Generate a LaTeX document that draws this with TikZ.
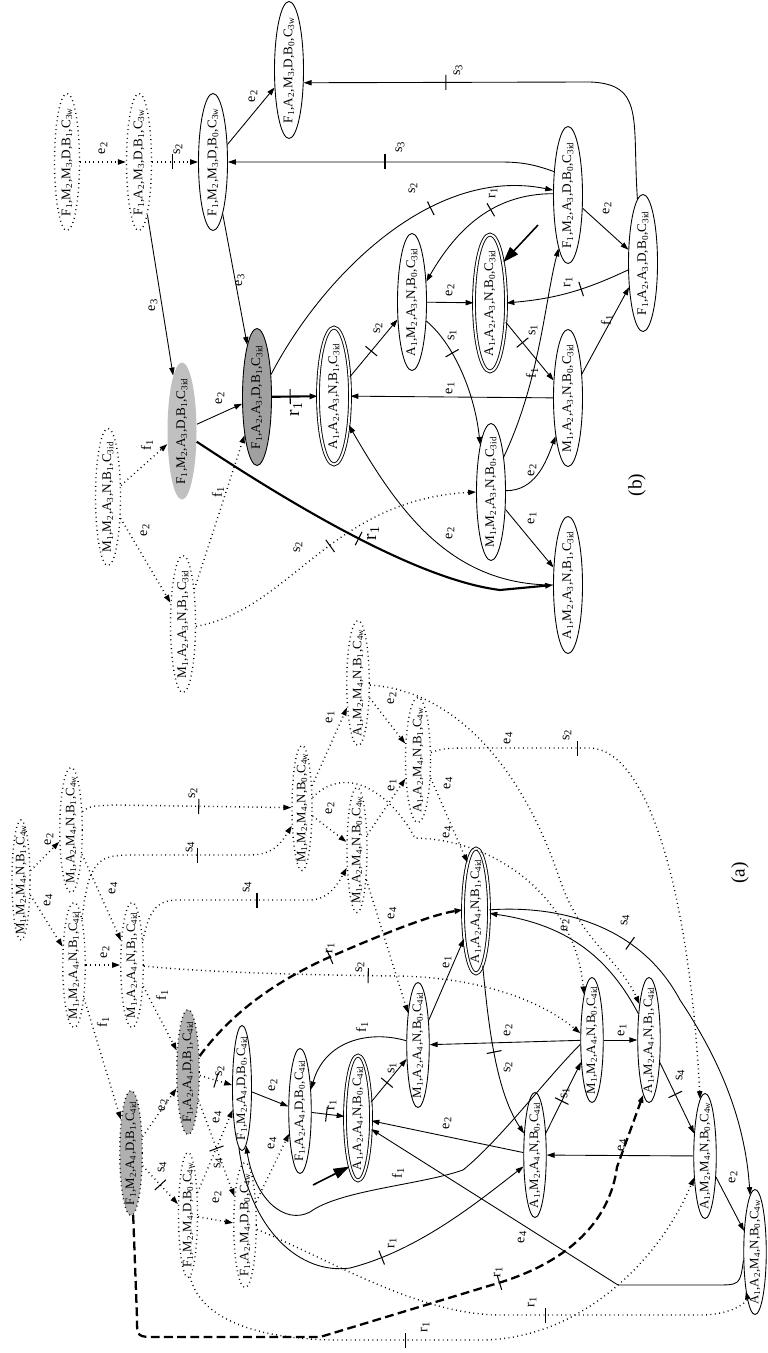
\documentclass[tikz,border=0pt]{standalone}
\usepackage{fontspec}
\setmainfont{Liberation Serif}
\usepackage{graphicx}
\usetikzlibrary{shapes.geometric,arrows.meta,decorations.markings}
\definecolor{stGray}{RGB}{176,176,176}
\definecolor{stLight}{RGB}{192,192,192}
\definecolor{stDark}{RGB}{160,160,160}
\newcommand{\sbs}[1]{\textsubscript{#1}}
\newcommand{\vtx}[1]{\rotatebox{90}{#1}}
\tikzset{
  % states of graph (b)
  sb/.style={ellipse, draw, line width=0.5pt, inner xsep=0pt, inner ysep=-6mm,
    minimum width=5.8mm, minimum height=27.4mm, font=\fontsize{7.5}{8}\selectfont},
  ub/.style={sb, dotted, line width=0.8pt, minimum width=5mm},
  fb/.style={sb, double, double distance=1.1pt, minimum width=6.4mm},
  % states of graph (a)
  sa/.style={ellipse, draw, line width=0.5pt, inner xsep=0pt, inner ysep=-7mm,
    minimum width=4.5mm, minimum height=25mm, font=\fontsize{7.3}{8}\selectfont},
  ua/.style={sa, dotted, line width=0.8pt},
  fa/.style={sa, double, double distance=1.1pt, minimum width=5.2mm},
  % edges
  tr/.style={-{Triangle[length=4.5pt,width=3pt]}, line width=0.5pt},
  ut/.style={tr, dotted, line width=0.8pt},
  thk/.style={tr, line width=1.2pt},
  dsh/.style={tr, line width=1.3pt, dash pattern=on 5pt off 2.5pt},
  init/.style={-{Triangle[length=9pt,width=6pt]}, line width=0.9pt},
  tk/.style={decoration={markings, mark=at position #1 with
    {\draw[-, solid, line width=0.6pt] (0,-1.5mm) -- (0,1.5mm);}},
    postaction={decorate}},
  el/.style={rotate=90, inner sep=0pt, font=\fontsize{8}{9}\selectfont},
  elb/.style={el, font=\fontsize{11}{12}\selectfont}
}
\begin{document}
\begin{tikzpicture}[x=0.2mm, y=-0.2mm]
\useasboundingbox (0,0) rectangle (767,1353);

% ---------------- (b)
\node[ub] (b1) at (67,162) {\vtx{F\sbs{1},M\sbs{2},M\sbs{3},D,B\sbs{1},C\sbs{3w}}};
\node[ub] (b2) at (139,162) {\vtx{F\sbs{1},A\sbs{2},M\sbs{3},D,B\sbs{1},C\sbs{3w}}};
\node[sb] (b3) at (213,162) {\vtx{F\sbs{1},M\sbs{2},M\sbs{3},D,B\sbs{0},C\sbs{3w}}};
\node[sb] (b4) at (289,70) {\vtx{F\sbs{1},A\sbs{2},M\sbs{3},D,B\sbs{0},C\sbs{3w}}};
\node[sb, draw=none, fill=stLight] (bL) at (182,431) {\vtx{F\sbs{1},M\sbs{2},A\sbs{3},D,B\sbs{1},C\sbs{3id}}};
\node[sb, fill=stDark] (b5) at (257,397) {\vtx{F\sbs{1},A\sbs{2},A\sbs{3},D,B\sbs{1},C\sbs{3id}}};
\node[fb] (b6) at (334,396) {\vtx{A\sbs{1},A\sbs{2},A\sbs{3},N,B\sbs{1},C\sbs{3id}}};
\node[sb] (b7) at (412,302) {\vtx{A\sbs{1},M\sbs{2},A\sbs{3},N,B\sbs{0},C\sbs{3id}}};
\node[fb] (b8) at (490,303) {\vtx{A\sbs{1},A\sbs{2},A\sbs{3},N,B\sbs{0},C\sbs{3id}}};
\node[sb] (b9) at (568,195) {\vtx{F\sbs{1},M\sbs{2},A\sbs{3},D,B\sbs{0},C\sbs{3id}}};
\node[sb] (b10) at (643,263) {\vtx{F\sbs{1},A\sbs{2},A\sbs{3},D,B\sbs{0},C\sbs{3id}}};
\node[sb] (b11) at (568,398) {\vtx{M\sbs{1},A\sbs{2},A\sbs{3},N,B\sbs{0},C\sbs{3id}}};
\node[sb] (b12) at (491,492) {\vtx{M\sbs{1},M\sbs{2},A\sbs{3},N,B\sbs{0},C\sbs{3id}}};
\node[sb] (b13) at (568,585) {\vtx{A\sbs{1},M\sbs{2},A\sbs{3},N,B\sbs{1},C\sbs{3id}}};
\node[ub] (b14) at (183,624) {\vtx{M\sbs{1},A\sbs{2},A\sbs{3},N,B\sbs{1},C\sbs{3id}}};
\node[ub] (b15) at (108,497) {\vtx{M\sbs{1},M\sbs{2},A\sbs{3},N,B\sbs{1},C\sbs{3id}}};
\coordinate (ib) at (538,225);

\draw[ut] (b1) -- (b2);
\draw[ut, tk=.45] (b2) -- (b3);
\draw[tr] (b3) -- (b4);
\draw[tr] (b2) -- (bL);
\draw[tr] (b3) -- (b5);
\draw[tr] (bL) -- (b5);
\draw[thk, tk=.4] (b5) -- (b6);
\draw[tr, tk=.45] (b6) -- (b7);
\draw[tr] (b7) -- (b8);
\draw[tr, tk=.3] (b7.-53) .. controls (455,345) and (475,395) .. (b12.103);
\draw[tr, tk=.35] (b8) -- (b11);
\draw[tr] (b12.5) to[out=0, in=-110] (b11.-108);
\draw[tr] (b12) -- (b13);
\draw[tr] (b11) -- (b6);
\draw[tr] (b13.180) to[out=180, in=-60] (b6.-63);
\draw[thk, tk=.48] (bL.-36) .. controls (300,510) and (420,580) .. (500,590) -- (b13.180);
\draw[ut, tk=.5] (b14.-10) .. controls (290,610) and (330,500) .. (b12.180);
\draw[ut] (b15) -- (bL);
\draw[ut] (b15) -- (b14);
\draw[ut] (b14) -- (b5);
\draw[init] (ib) -- (b8.72);
\draw[tr] (b9) -- (b10);
\draw[tr, tk=.4] (b10.205) to[bend left=10] (b8.0);
\draw[tr] (b11.60) -- (b10.-120);
\draw[tr] (b12.70) .. controls (540,380) and (545,300) .. (b9.-100);
\draw[tr, tk=.4] (b9.175) to[out=180, in=60] (b7.55);
\draw[tr, tk=.65] (b5.58) .. controls (320,280) and (430,165) .. (b9.162);
\draw[tr, tk=.52] (b9.121) to[out=160, in=0] (500,162) -- (b3);
\draw[tr, tk=.67] (b10.95) .. controls (632,120) and (645,84) .. (590,82) -- (b4.-41);

\node[el] (lb1) at (103,148) {e\sbs{2}};
\node[el] (lb2) at (178,149) {s\sbs{2}};
\node[el] (lb3) at (253,96) {e\sbs{2}};
\node[el] (lb4) at (153,305) {e\sbs{3}};
\node[el] (lb5) at (240,280) {e\sbs{3}};
\node[el] (lb6) at (220,398) {e\sbs{2}};
\node[elb] (lb7) at (296,409) {r\sbs{1}};
\node[el] (lb8) at (378,328) {s\sbs{2}};
\node[el] (lb9) at (450,290) {e\sbs{2}};
\node[el] (lb10) at (452,335) {s\sbs{1}};
\node[el] (lb11) at (533,330) {s\sbs{1}};
\node[el] (lb12) at (532,470) {e\sbs{2}};
\node[el] (lb13) at (532,518) {e\sbs{1}};
\node[el] (lb14) at (450,388) {e\sbs{1}};
\node[el] (lb15) at (450,533) {e\sbs{2}};
\node[elb] (lb16) at (373,533) {r\sbs{1}};
\node[el] (lb17) at (298,547) {s\sbs{2}};
\node[el] (lb18) at (147,445) {f\sbs{1}};
\node[el] (lb19) at (145,530) {e\sbs{2}};
\node[el] (lb20) at (218,492) {f\sbs{1}};
\node[el] (lb21) at (607,208) {e\sbs{2}};
\node[el] (lb22) at (568,282) {r\sbs{1}};
\node[el] (lb23) at (607,320) {f\sbs{1}};
\node[el] (lb24) at (532,373) {f\sbs{1}};
\node[el] (lb25) at (493,193) {r\sbs{1}};
\node[el] (lb26) at (413,188) {s\sbs{2}};
\node[el] (lb27) at (400,147) {s\sbs{3}};
\node[el] (lb28) at (458,70) {s\sbs{3}};
\node[elb] (capb) at (637,485) {(b)};

% ---------------- (a)
\node[ua, minimum width=3.6mm, minimum height=24mm] (a1) at (21,880) {\vtx{M\sbs{1},M\sbs{2},M\sbs{4},N,B\sbs{1},C\sbs{4w}}};
\node[ua] (a2) at (71,830) {\vtx{M\sbs{1},A\sbs{2},M\sbs{4},N,B\sbs{1},C\sbs{4w}}};
\node[ua] (a3) at (74,965) {\vtx{M\sbs{1},M\sbs{2},A\sbs{4},N,B\sbs{1},C\sbs{4id}}};
\node[ua] (a4) at (132,965) {\vtx{M\sbs{1},A\sbs{2},A\sbs{4},N,B\sbs{1},C\sbs{4id}}};
\node[ua, fill=stGray] (a5) at (131,1153) {\vtx{F\sbs{1},M\sbs{2},A\sbs{4},D,B\sbs{1},C\sbs{4id}}};
\node[ua, fill=stGray] (a6) at (188,1072) {\vtx{F\sbs{1},A\sbs{2},A\sbs{4},D,B\sbs{1},C\sbs{4id}}};
\node[sa, minimum width=3.8mm] (a7) at (242,1088) {\vtx{F\sbs{1},M\sbs{2},A\sbs{4},D,B\sbs{0},C\sbs{4id}}};
\node[ua, minimum width=3.8mm] (a8) at (188,1215) {\vtx{F\sbs{1},M\sbs{2},M\sbs{4},D,B\sbs{0},C\sbs{4w}}};
\node[ua] (a9) at (245,1225) {\vtx{F\sbs{1},A\sbs{2},M\sbs{4},D,B\sbs{0},C\sbs{4w}}};
\node[sa] (a10) at (300,1111) {\vtx{F\sbs{1},A\sbs{2},A\sbs{4},D,B\sbs{0},C\sbs{4id}}};
\node[fa] (a11) at (358,1118) {\vtx{A\sbs{1},A\sbs{2},A\sbs{4},N,B\sbs{0},C\sbs{4id}}};
\node[sa] (a12) at (418,1045) {\vtx{M\sbs{1},A\sbs{2},A\sbs{4},N,B\sbs{0},C\sbs{4id}}};
\node[fa] (a13) at (476,911) {\vtx{A\sbs{1},A\sbs{2},A\sbs{4},N,B\sbs{1},C\sbs{4id}}};
\node[sa] (a14) at (535,1155) {\vtx{A\sbs{1},M\sbs{2},A\sbs{4},N,B\sbs{0},C\sbs{4id}}};
\node[sa] (a15) at (592,1040) {\vtx{M\sbs{1},M\sbs{2},A\sbs{4},N,B\sbs{0},C\sbs{4id}}};
\node[sa] (a16) at (649,1040) {\vtx{A\sbs{1},M\sbs{2},A\sbs{4},N,B\sbs{1},C\sbs{4id}}};
\node[sa] (a17) at (705,1156) {\vtx{A\sbs{1},M\sbs{2},M\sbs{4},N,B\sbs{0},C\sbs{4w}}};
\node[sa] (a18) at (755,1252) {\vtx{A\sbs{1},A\sbs{2},M\sbs{4},N,B\sbs{0},C\sbs{4w}}};
\node[ua, minimum width=4mm] (a19) at (302,808) {\vtx{M\sbs{1},M\sbs{2},M\sbs{4},N,B\sbs{0},C\sbs{4w}}};
\node[ua, minimum width=4mm] (a20) at (357,850) {\vtx{M\sbs{1},A\sbs{2},M\sbs{4},N,B\sbs{0},C\sbs{4w}}};
\node[ua] (a21) at (358,683) {\vtx{A\sbs{1},M\sbs{2},M\sbs{4},N,B\sbs{1},C\sbs{4w}}};
\node[ua, minimum width=5mm] (a22) at (418,760) {\vtx{A\sbs{1},A\sbs{2},M\sbs{4},N,B\sbs{1},C\sbs{4w}}};
\coordinate (ia) at (313,1185);

% unreachable part
\draw[ut] (a1) -- (a2);
\draw[ut] (a1) -- (a3);
\draw[ut] (a2) -- (a4);
\draw[ut] (a3) -- (a4);
\draw[ut] (a3) -- (a5);
\draw[ut] (a4) -- (a6);
\draw[ut] (a5) -- (a6);
\draw[ut, tk=.5] (a5) -- (a8);
\draw[ut, tk=.5] (a6) -- (a7);
\draw[ut, tk=.5] (a6) -- (a9);
\draw[ut] (a8) -- (a9);
\draw[ut] (a8) -- (a7);
\draw[ut] (a9) -- (a10);
\draw[ut, tk=.4] (a8.-88) .. controls (200,1320) and (260,1340) .. (340,1340) -- (480,1340)
  .. controls (580,1340) and (660,1260) .. (a17.-117);
\draw[ut, tk=.59] (a9.-20) .. controls (330,1260) and (420,1315) .. (500,1315) -- (700,1315)
  .. controls (735,1315) and (748,1300) .. (a18.-103);
\draw[ut, tk=.56] (a2.58) .. controls (90,806) .. (115,805) -- (a19.178);
\draw[ut, tk=.6] (a3.80) .. controls (88,860) and (100,855) .. (130,855) -- (250,855)
  .. controls (275,855) and (283,840) .. (a19.-120);
\draw[ut, tk=.57] (a4.66) .. controls (150,905) and (160,900) .. (180,900) -- (310,900)
  .. controls (330,900) and (340,880) .. (a20.-120);
\draw[ut, tk=.5] (a4.-5) .. controls (200,972) and (300,975) .. (400,976)
  .. controls (480,978) and (540,1000) .. (a15.150);
\draw[ut] (a19) -- (a21);
\draw[ut] (a19) -- (a20);
\draw[ut] (a21) -- (a22);
\draw[ut] (a20) -- (a22);
\draw[ut] (a19.45) .. controls (350,760) and (395,800) .. (415,838)
  .. controls (500,840) and (575,900) .. (a15.100);
\draw[ut] (a20) -- (a12);
\draw[ut] (a21.-10) .. controls (450,690) and (520,760) .. (560,880)
  .. controls (580,940) and (620,960) .. (a16.105);
\draw[ut] (a22.-55) -- (a13.100);
\draw[ut, tk=.27] (a22.30) .. controls (445,748) .. (480,748) -- (590,748)
  .. controls (650,750) and (690,900) .. (a17.95);

% reachable part
\draw[tr] (a7) -- (a10);
\draw[tr, tk=.45] (a10) -- (a11);
\draw[init] (ia) -- (a11.-100);
\draw[tr, tk=.45] (a11) -- (a12);
\draw[tr] (a12.160) .. controls (370,1030) and (325,1040) .. (a10.63);
\draw[tr] (a12) -- (a13);
\draw[tr] (a15) -- (a12);
\draw[tr] (a15) -- (a16);
\draw[tr, tk=.5] (a13.-83) .. controls (488,1020) and (495,1090) .. (a14.117);
\draw[tr, tk=.45] (a14) -- (a15);
\draw[tr] (a16.112) .. controls (610,960) and (570,925) .. (a13.-10);
\draw[tr, tk=.45] (a16) -- (a17);
\draw[tr] (a17) -- (a14);
\draw[tr] (a17) -- (a18);
\draw[tr] (a18.-144) .. controls (740,1285) .. (715,1285) -- (618,1285) -- (a11.-40);
\draw[tr, tk=.34] (a13.5) .. controls (560,905) and (640,925) .. (680,1000)
  .. controls (720,1060) and (745,1120) .. (a18.95);
\draw[tr] (a14) -- (a11);
\draw[tr] (a15.-160) .. controls (545,1080) and (500,1140) .. (463,1170)
  .. controls (420,1185) and (340,1190) .. (310,1212)
  .. controls (285,1225) and (255,1200) .. (a7.-86);
\draw[tr, tk=.56] (a7.-93) .. controls (250,1230) and (300,1275) .. (350,1268)
  .. controls (420,1250) and (480,1200) .. (a14.-135);
\draw[dsh, tk=.54] (a6.54) .. controls (230,1015) and (270,985) .. (323,960)
  .. controls (380,935) and (430,915) .. (a13.175);
\draw[dsh, tk=.66] (a5.-88) -- (137,1318) .. controls (137,1337) .. (157,1337) -- (320,1337)
  -- (495,1284) .. controls (570,1262) and (610,1220) .. (617,1167) -- (a16.-96);

\node[el] (la1) at (49,839) {e\sbs{2}};
\node[el] (la2) at (48,900) {e\sbs{4}};
\node[el] (la3) at (113,888) {e\sbs{4}};
\node[el] (la4) at (105,952) {e\sbs{2}};
\node[el] (la5) at (103,1022) {f\sbs{1}};
\node[el] (la6) at (162,995) {f\sbs{1}};
\node[el] (la7) at (163,1105) {e\sbs{2}};
\node[el] (la8) at (162,1167) {s\sbs{4}};
\node[el] (la9) at (220,1071) {s\sbs{2}};
\node[el] (la10) at (218,1163) {s\sbs{4}};
\node[el] (la11) at (217,1197) {e\sbs{2}};
\node[el] (la12) at (217,1117) {e\sbs{4}};
\node[el] (la13) at (272,1143) {e\sbs{4}};
\node[el] (la14) at (425,1327) {r\sbs{1}};
\node[el] (la15) at (532,1302) {r\sbs{1}};
\node[el] (la16) at (193,793) {s\sbs{2}};
\node[el] (la17) at (190,847) {s\sbs{4}};
\node[el] (la18) at (247,887) {s\sbs{4}};
\node[el] (la19) at (360,967) {s\sbs{2}};
\node[el] (la20) at (330,717) {e\sbs{1}};
\node[el] (la21) at (330,808) {e\sbs{2}};
\node[el] (la22) at (392,698) {e\sbs{2}};
\node[el] (la23) at (392,785) {e\sbs{1}};
\node[el] (la24) at (447,832) {e\sbs{4}};
\node[el] (la25) at (392,913) {e\sbs{4}};
\node[el] (la26) at (508,738) {e\sbs{4}};
\node[el] (la27) at (448,783) {e\sbs{4}};
\node[el] (la28) at (567,735) {s\sbs{2}};
\node[el] (la29) at (273,1085) {e\sbs{2}};
\node[el] (la30) at (332,1105) {r\sbs{1}};
\node[el] (la31) at (392,1068) {s\sbs{1}};
\node[el] (la32) at (362,1027) {f\sbs{1}};
\node[el] (la33) at (447,962) {e\sbs{1}};
\node[el] (la34) at (508,1030) {e\sbs{2}};
\node[el] (la35) at (622,1030) {e\sbs{1}};
\node[el] (la36) at (508,1067) {s\sbs{2}};
\node[el] (la37) at (565,1093) {s\sbs{1}};
\node[el] (la38) at (565,925) {e\sbs{2}};
\node[el] (la39) at (680,1075) {s\sbs{4}};
\node[el] (la40) at (622,1145) {e\sbs{4}};
\node[el] (la41) at (733,1177) {e\sbs{2}};
\node[el] (la42) at (522,1237) {e\sbs{4}};
\node[el] (la43) at (625,920) {s\sbs{4}};
\node[el] (la44) at (447,1123) {e\sbs{2}};
\node[el] (la45) at (398,1173) {f\sbs{1}};
\node[el] (la46) at (392,1243) {r\sbs{1}};
\node[el] (la47) at (330,948) {r\sbs{1}};
\node[el] (la48) at (498,1272) {r\sbs{1}};
\node[elb] (capa) at (740,873) {(a)};
\end{tikzpicture}
\end{document}
